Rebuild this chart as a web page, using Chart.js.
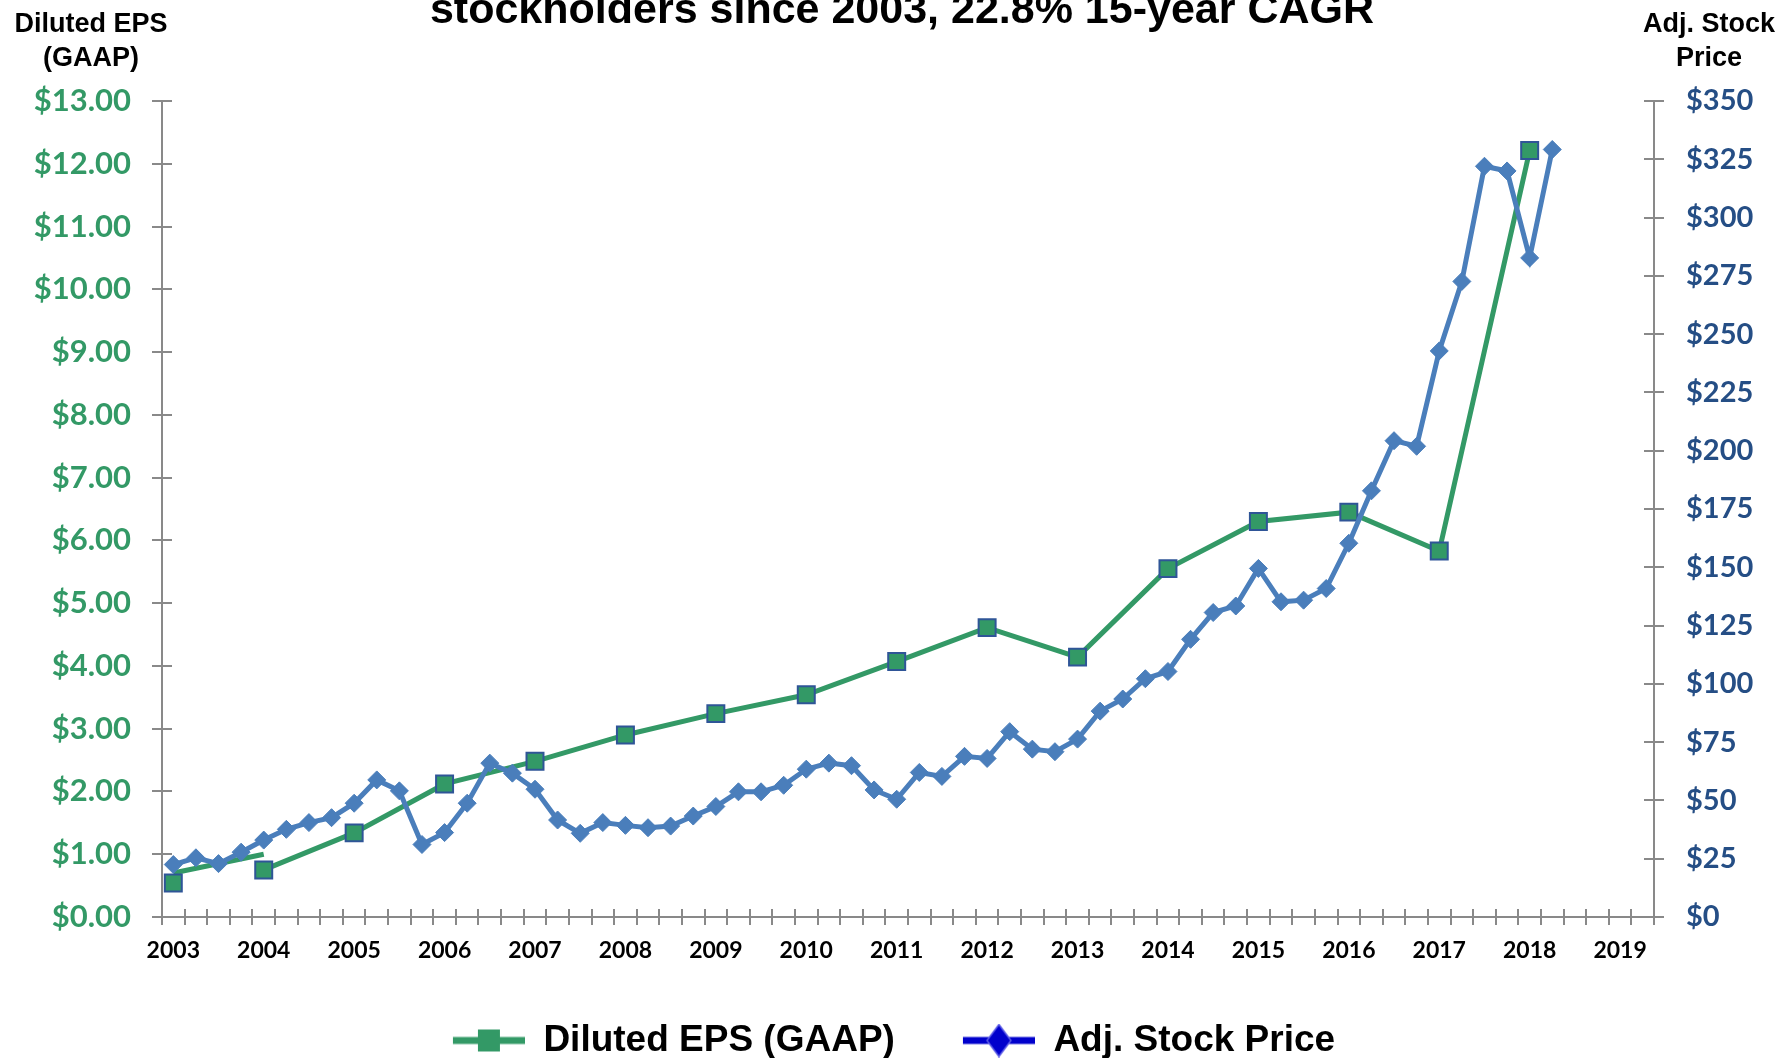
<!DOCTYPE html>
<html>
<head>
<meta charset="utf-8">
<script src="https://cdn.jsdelivr.net/npm/chart.js@4.4.1/dist/chart.umd.min.js"></script>
<style>
  html, body { margin: 0; padding: 0; width: 1783px; height: 1058px; overflow: hidden; background: #ffffff; }
  #wrap { position: relative; width: 1783px; height: 1069px; }
</style>
</head>
<body>
<div id="wrap"><canvas id="c" width="1783" height="1069"></canvas></div>
<script>
// ---------------- data ----------------
const quarterLabels = [
  '2003 Q1','2003 Q2','2003 Q3','2003 Q4',
  '2004 Q1','2004 Q2','2004 Q3','2004 Q4',
  '2005 Q1','2005 Q2','2005 Q3','2005 Q4',
  '2006 Q1','2006 Q2','2006 Q3','2006 Q4',
  '2007 Q1','2007 Q2','2007 Q3','2007 Q4',
  '2008 Q1','2008 Q2','2008 Q3','2008 Q4',
  '2009 Q1','2009 Q2','2009 Q3','2009 Q4',
  '2010 Q1','2010 Q2','2010 Q3','2010 Q4',
  '2011 Q1','2011 Q2','2011 Q3','2011 Q4',
  '2012 Q1','2012 Q2','2012 Q3','2012 Q4',
  '2013 Q1','2013 Q2','2013 Q3','2013 Q4',
  '2014 Q1','2014 Q2','2014 Q3','2014 Q4',
  '2015 Q1','2015 Q2','2015 Q3','2015 Q4',
  '2016 Q1','2016 Q2','2016 Q3','2016 Q4',
  '2017 Q1','2017 Q2','2017 Q3','2017 Q4',
  '2018 Q1','2018 Q2','2018 Q3','2018 Q4',
  '2019 Q1','2019 Q2'
];

const yearTickLabels = ['2003','2004','2005','2006','2007','2008','2009','2010','2011',
  '2012','2013','2014','2015','2016','2017','2018','2019'];

const epsPeriods = ['2003 Q1','2004 Q1','2005 Q1','2006 Q1','2007 Q1','2008 Q1','2009 Q1','2010 Q1',
  '2011 Q1','2012 Q1','2013 Q1','2014 Q1','2015 Q1','2016 Q1','2017 Q1','2018 Q1'];
const epsValues = [0.54, 0.75, 1.34, 2.12, 2.48, 2.90, 3.24, 3.54,
  4.07, 4.61, 4.14, 5.55, 6.30, 6.45, 5.83, 12.21];

// stray early EPS line segment visible in the original (no markers)
const epsLinkPeriods = ['2003 Q1','2004 Q1'];
const epsLinkValues = [0.70, 1.00];

// quarterly adjusted stock price, starting 2003 Q1
const stockPrices = [
  22.5, 25.4, 22.9, 27.8,
  33.0, 37.6, 40.5, 42.6,
  48.8, 58.8, 54.1, 31.1,
  36.2, 48.8, 66.0, 61.7,
  54.8, 41.6, 35.9, 40.5,
  39.3, 38.3, 39.0, 43.3,
  47.4, 53.7, 53.7, 56.5,
  63.4, 66.0, 64.9, 54.5,
  50.5, 62.0, 60.3, 68.9,
  68.0, 79.5, 72.0, 70.9,
  76.3, 88.3, 93.5, 102.2,
  105.3, 119.1, 130.6, 133.4,
  149.5, 135.2, 135.9, 140.9,
  160.3, 182.8, 204.3, 201.9,
  242.8, 272.6, 322.0, 320.0,
  282.7, 329.2
];

const titleText = 'stockholders since 2003, 22.8% 15-year CAGR';
const leftAxisTitle = ['Diluted EPS', '(GAAP)'];
const rightAxisTitle = ['Adj. Stock', 'Price'];
const seriesNames = ['Diluted EPS (GAAP)', 'Adj. Stock Price'];

// ---------------- styling ----------------
const GREEN = '#339966';
const BLUE = '#4A7EBB';
const AXIS = '#898989';
const TICK_FONT = 'Lato';
const TEXT_FONT = '"Liberation Sans", Arial, sans-serif';

function makeLegendIcon(kind) {
  const c = document.createElement('canvas');
  c.width = 77; c.height = 34;
  const g = c.getContext('2d');
  const cy = 17, x0 = 5, x1 = 77, cx = (x0 + x1) / 2;
  if (kind === 'square') {
    g.fillStyle = GREEN;
    g.fillRect(x0, cy - 3.5, x1 - x0, 7);
    g.fillRect(cx - 11, cy - 11, 22, 22);
  } else {
    g.fillStyle = '#0000CC';
    g.fillRect(x0, cy - 3.5, x1 - x0, 7);
    g.beginPath();
    g.moveTo(cx, cy - 16); g.lineTo(cx + 12, cy); g.lineTo(cx, cy + 16); g.lineTo(cx - 12, cy); g.closePath();
    g.fill();
    g.strokeStyle = '#5A5AE6'; g.lineWidth = 1.5; g.stroke();
  }
  return c;
}
const legendIcons = [makeLegendIcon('square'), makeLegendIcon('diamond')];

const innerTicks = {
  id: 'innerTicks',
  beforeDatasetsDraw(chart) {
    const {ctx, chartArea: a, scales} = chart;
    ctx.save();
    ctx.strokeStyle = AXIS;
    ctx.lineWidth = 2;
    ctx.beginPath();
    const yl = scales.yEps, yr = scales.yPrice, xs = scales.x;
    yl.ticks.forEach((t, i) => { const y = Math.round(yl.getPixelForTick(i)); ctx.moveTo(a.left, y); ctx.lineTo(a.left + 10, y); });
    yr.ticks.forEach((t, i) => { const y = Math.round(yr.getPixelForTick(i)); ctx.moveTo(a.right - 10, y); ctx.lineTo(a.right, y); });
    for (let i = 0; i <= quarterLabels.length; i++) {
      const px = Math.round(xs.getPixelForValue(i - 0.5));
      ctx.moveTo(px, a.bottom - 8); ctx.lineTo(px, a.bottom);
    }
    ctx.stroke();
    ctx.restore();
  }
};

const textLayer = {
  id: 'textLayer',
  afterDraw(chart) {
    const ctx = chart.ctx;
    ctx.save();
    ctx.fillStyle = '#000';
    ctx.textAlign = 'center';
    ctx.textBaseline = 'alphabetic';
    ctx.font = 'bold 43px ' + TEXT_FONT;
    ctx.fillText(titleText, 902, 23);
    ctx.font = 'bold 27px ' + TEXT_FONT;
    ctx.textBaseline = 'middle';
    leftAxisTitle.forEach((t, i) => ctx.fillText(t, 91, 25 + i * 34));
    rightAxisTitle.forEach((t, i) => ctx.fillText(t, 1709, 25 + i * 34));
    ctx.restore();
  }
};

new Chart(document.getElementById('c'), {
  type: 'line',
  data: {
    labels: quarterLabels,
    datasets: [
      {
        label: seriesNames[0],
        data: epsPeriods.map((p, i) => ({x: p, y: epsValues[i]})),
        yAxisID: 'yEps',
        borderColor: GREEN,
        backgroundColor: GREEN,
        borderWidth: 5,
        pointStyle: 'rect',
        pointRadius: 12,
        pointBackgroundColor: GREEN,
        pointBorderColor: '#2F5597',
        pointBorderWidth: 2,
        tension: 0,
        order: 2,
        segment: { borderColor: ctx => ctx.p0DataIndex === 0 ? 'rgba(0,0,0,0)' : undefined }
      },
      {
        label: seriesNames[1],
        data: stockPrices,
        yAxisID: 'yPrice',
        borderColor: BLUE,
        backgroundColor: BLUE,
        borderWidth: 5,
        pointStyle: 'rectRot',
        pointRadius: 9,
        pointBackgroundColor: BLUE,
        pointBorderColor: BLUE,
        pointBorderWidth: 1,
        tension: 0,
        order: 1
      },
      {
        label: 'eps-link',
        data: epsLinkPeriods.map((p, i) => ({x: p, y: epsLinkValues[i]})),
        yAxisID: 'yEps',
        borderColor: GREEN,
        borderWidth: 5,
        borderCapStyle: 'butt',
        pointRadius: 0,
        tension: 0,
        order: 3
      }
    ]
  },
  options: {
    responsive: false,
    animation: false,
    devicePixelRatio: 1,
    layout: { padding: { top: 101, left: 0, right: 0, bottom: 0 } },
    plugins: {
      title: { display: false },
      tooltip: { enabled: false },
      legend: {
        position: 'bottom',
        labels: {
          usePointStyle: true,
          pointStyleWidth: 77,
          padding: 63,
          color: '#000',
          font: { family: TEXT_FONT, size: 37, weight: 'bold' },
          sort: (a, b) => a.datasetIndex - b.datasetIndex,
          generateLabels: chart => Chart.defaults.plugins.legend.labels.generateLabels(chart)
            .filter(it => it.datasetIndex < 2)
            .map(it => Object.assign(it, { pointStyle: legendIcons[it.datasetIndex] }))
        }
      }
    },
    scales: {
      x: {
        type: 'category',
        offset: true,
        grid: { offset: true, drawOnChartArea: false, drawTicks: true, tickLength: 8, color: AXIS, lineWidth: 2 },
        border: { display: true, color: AXIS, width: 2 },
        ticks: {
          autoSkip: false, maxRotation: 0, minRotation: 0, padding: 12,
          color: '#000',
          font: { family: TICK_FONT, size: 23, weight: 'bold' },
          callback: (v, i) => (i % 4 === 0 ? yearTickLabels[i / 4] : '')
        },
        afterFit: s => { s.height = 42; }
      },
      yEps: {
        position: 'left',
        min: 0, max: 13,
        grid: { drawOnChartArea: false, drawTicks: true, tickLength: 10, color: AXIS, lineWidth: 2 },
        border: { display: true, color: AXIS, width: 2 },
        ticks: {
          stepSize: 1, padding: 21, color: GREEN,
          font: { family: TICK_FONT, size: 31, weight: 'bold' },
          callback: v => '$' + Number(v).toFixed(2)
        },
        afterFit: s => { s.width = 162; }
      },
      yPrice: {
        position: 'right',
        min: 0, max: 350,
        grid: { drawOnChartArea: false, drawTicks: true, tickLength: 10, color: AXIS, lineWidth: 2 },
        border: { display: true, color: AXIS, width: 2 },
        ticks: {
          stepSize: 25, padding: 22, color: '#254E85',
          font: { family: TICK_FONT, size: 29, weight: 'bold' },
          callback: v => '$' + v
        },
        afterFit: s => { s.width = 129; }
      }
    }
  },
  plugins: [innerTicks, textLayer]
});
</script>
</body>
</html>
